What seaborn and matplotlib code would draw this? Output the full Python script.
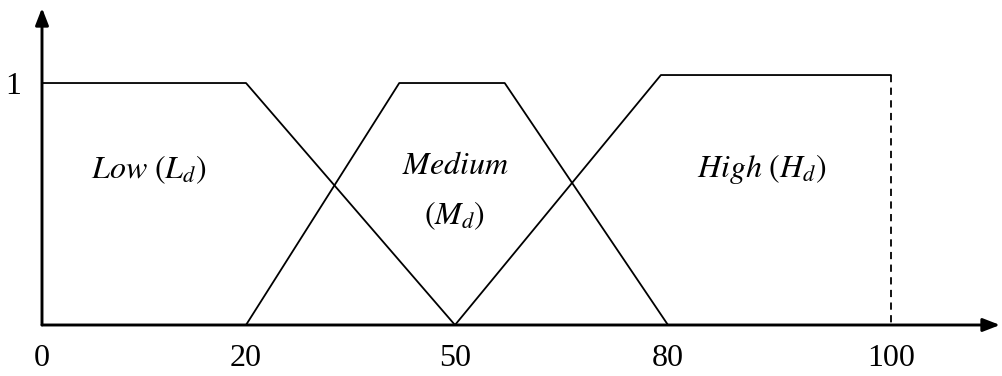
import numpy as np
import pandas as pd
import seaborn as sns
import matplotlib.pyplot as plt

# membership breakpoints (x = value, mu = degree)
low_x = [0, 20, 50]
low_mu = [1, 1, 0]
med_x = [20, 42, 57, 80]
med_mu = [0, 1, 1, 0]
high_x = [50, 79, 100]
high_mu = [0, 1.033, 1.033]
edge_x = [100, 100]
edge_mu = [1.033, 0]

tick_vals = [0, 20, 50, 80, 100]
tick_labels = ["0", "20", "50", "80", "100"]
# the drawn axis is not linear in value: labelled ticks sit at these slots
tick_slots = [0, 204, 413, 626, 849]

set_labels = [r"$Low\ (L_d)$", "$Medium$\n$(M_d)$", r"$High\ (H_d)$"]
label_x = [10.5, 50.0, 88.4]
label_y = [0.64, 0.55, 0.645]

sns.set_theme(style="white")
plt.rcParams["font.family"] = ["Liberation Serif", "DejaVu Serif"]
plt.rcParams["mathtext.fontset"] = "stix"

x_end = 100 + (958 - 849) * 20 / 223
ext_vals = tick_vals + [x_end]
ext_slots = tick_slots + [958]


def fwd(v):
    return np.interp(v, ext_vals, ext_slots, left=-1e9, right=1e9)


def inv(p):
    return np.interp(p, ext_slots, ext_vals)


df = pd.concat([
    pd.DataFrame({"x": low_x, "mu": low_mu, "set": "low"}),
    pd.DataFrame({"x": med_x, "mu": med_mu, "set": "med"}),
    pd.DataFrame({"x": high_x, "mu": high_mu, "set": "high"}),
])

fig = plt.figure(figsize=(10.03, 3.76), dpi=100)
ax = fig.add_axes([42 / 1003, 51 / 376, 958 / 1003, 317 / 376])
ax.set_xscale("function", functions=(fwd, inv))

sns.lineplot(data=df, x="x", y="mu", units="set", estimator=None, sort=False,
             color="black", linewidth=1.3, ax=ax, legend=False)
# right edge of High, dashed
sns.lineplot(x=edge_x, y=edge_mu, estimator=None, sort=False, color="black",
             linewidth=1.3, linestyle=(0, (4, 3)), ax=ax)

ax.set_xlim(0, x_end)
ax.set_ylim(0, 1.31)
for s in ax.spines.values():
    s.set_visible(False)

# axes with arrow heads
arrow = dict(arrowstyle="-|>,head_length=0.85,head_width=0.33",
             color="black", lw=2.1, shrinkA=0, shrinkB=0)
ax.annotate("", xy=(1, 0), xytext=(0, 0), xycoords="axes fraction",
            arrowprops=arrow, annotation_clip=False)
ax.annotate("", xy=(0, 1), xytext=(0, 0), xycoords="axes fraction",
            arrowprops=arrow, annotation_clip=False)

ax.set_xticks(tick_vals)
ax.set_xticklabels(tick_labels)
ax.set_yticks([1])
ax.set_yticklabels(["1"])
ax.tick_params(axis="x", length=0, pad=14, labelsize=23, colors="black")
ax.tick_params(axis="y", length=0, pad=15, labelsize=23, colors="black")
ax.set_xlabel("")
ax.set_ylabel("")

for txt, x, y in zip(set_labels, label_x, label_y):
    ax.text(x, y, txt, ha="center", va="center", fontsize=23,
            linespacing=1.75, color="black")

fig.savefig("out.png", dpi=100)
